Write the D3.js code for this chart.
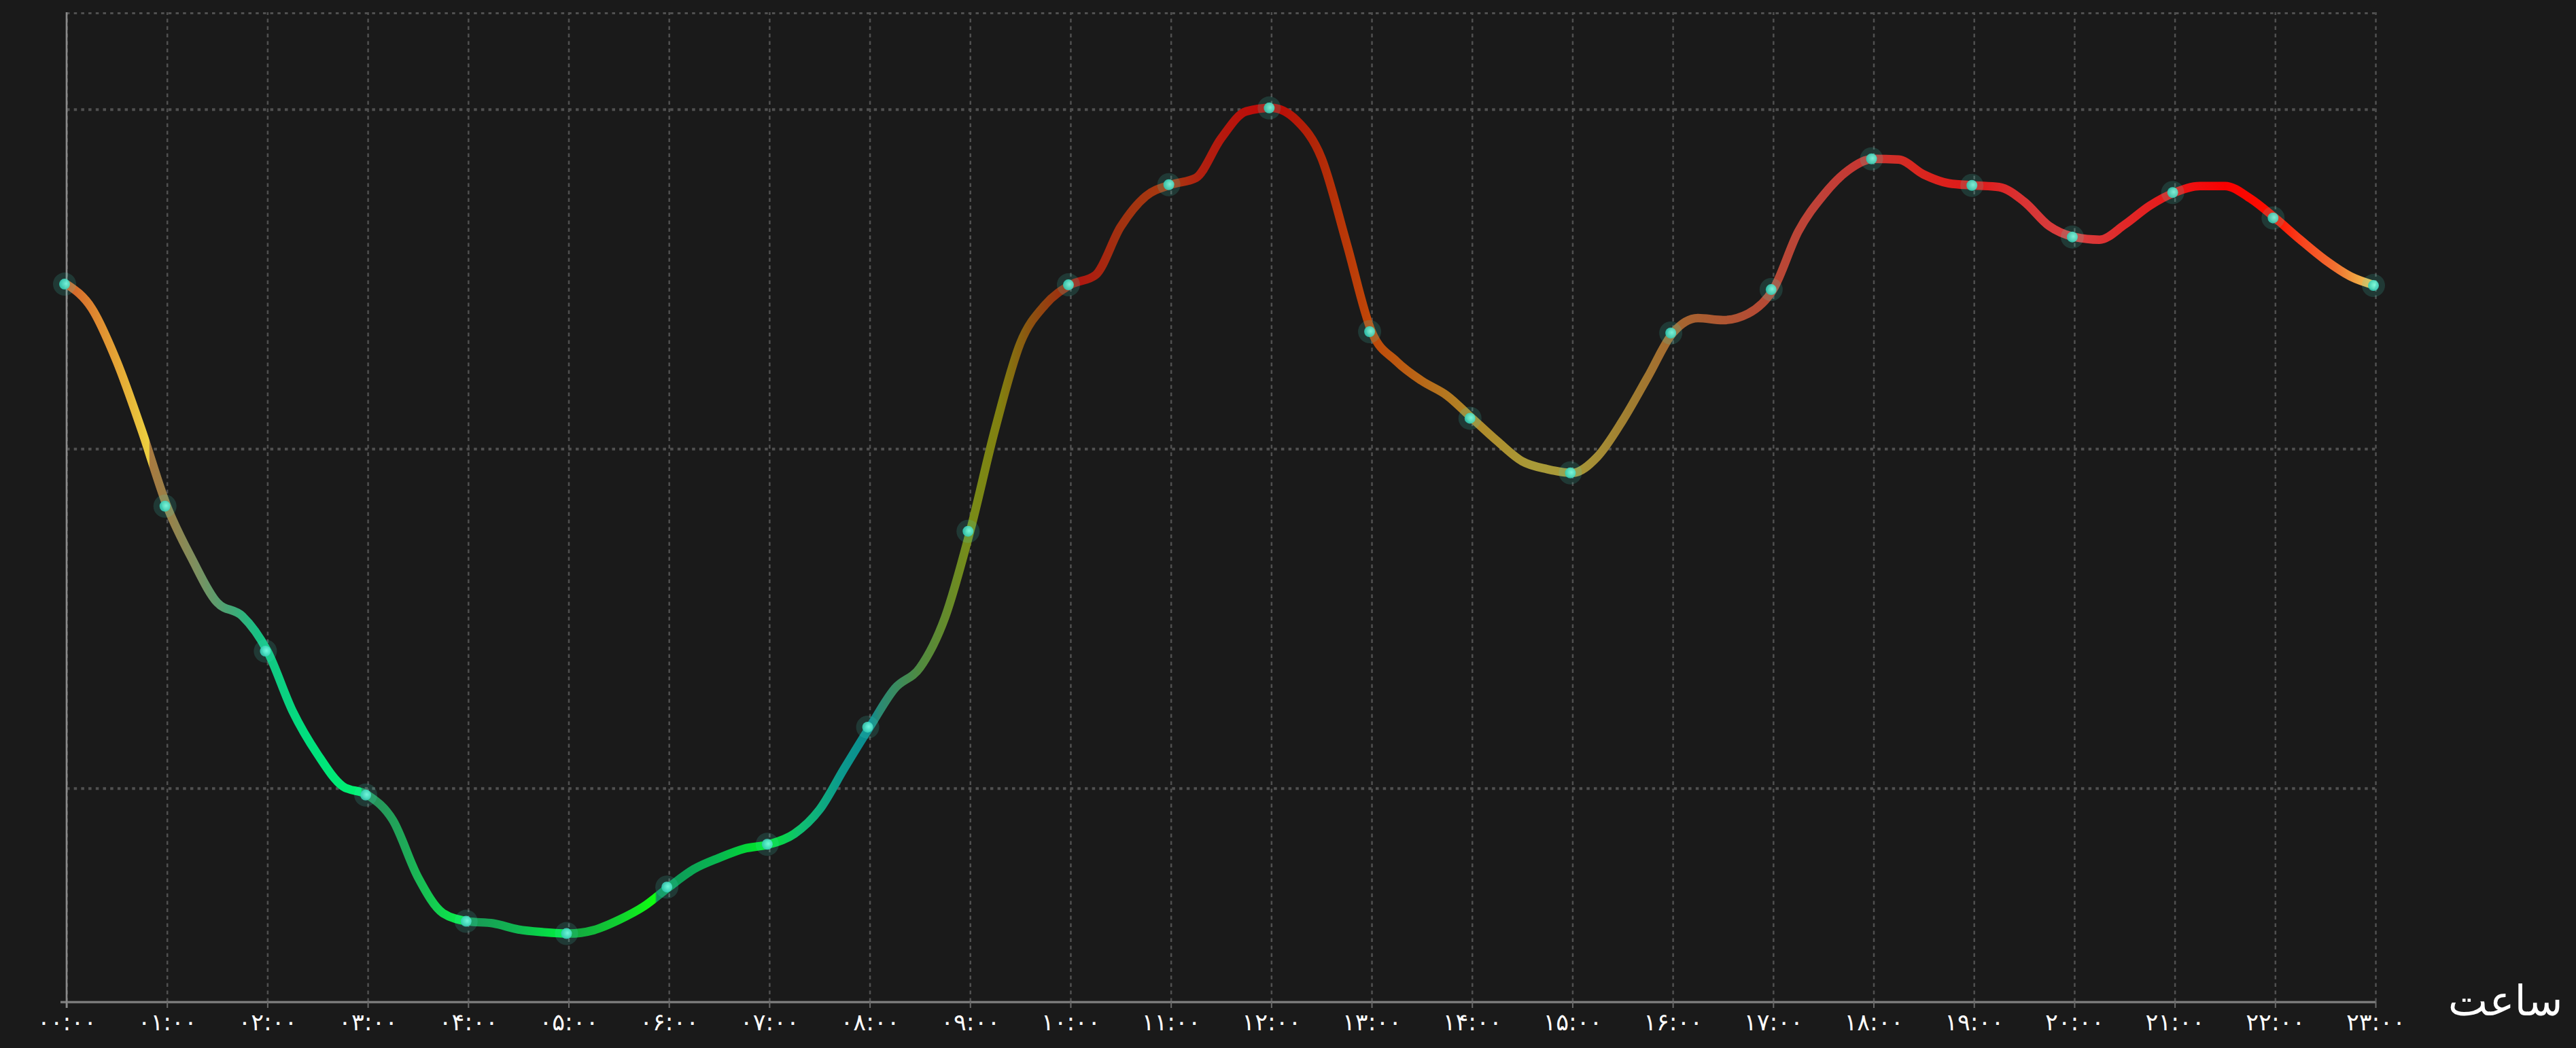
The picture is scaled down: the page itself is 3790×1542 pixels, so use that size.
<!DOCTYPE html>
<html><head><meta charset="utf-8">
<script src="https://cdn.jsdelivr.net/npm/d3@7"></script>
<style>html,body{margin:0;padding:0;background:#1a1a1a;}svg{display:block}</style>
</head><body><svg id="chart" width="3790" height="1542"></svg>
<script>
// ---- data ----
const hourLabels = ["۰۰:۰۰","۰۱:۰۰","۰۲:۰۰","۰۳:۰۰","۰۴:۰۰","۰۵:۰۰","۰۶:۰۰","۰۷:۰۰","۰۸:۰۰","۰۹:۰۰","۱۰:۰۰","۱۱:۰۰","۱۲:۰۰","۱۳:۰۰","۱۴:۰۰","۱۵:۰۰","۱۶:۰۰","۱۷:۰۰","۱۸:۰۰","۱۹:۰۰","۲۰:۰۰","۲۱:۰۰","۲۲:۰۰","۲۳:۰۰"];
const hours = [0,1,2,3,4,5,6,7,8,9,10,11,12,13,14,15,16,17,18,19,20,21,22,23];
const times = [0,0.25,0.5,0.75,1,1.25,1.5,1.75,2,2.25,2.5,2.75,3,3.25,3.5,3.75,4,4.25,4.5,4.75,5,5.25,5.5,5.75,
  6,6.25,6.5,6.75,7,7.25,7.5,7.75,8,8.25,8.5,8.75,9,9.25,9.5,9.75,10,10.25,10.5,10.75,11,11.25,11.5,11.75,
  12,12.25,12.5,12.75,13,13.25,13.5,13.75,14,14.25,14.5,14.75,15,15.25,15.5,15.75,16,16.25,16.5,16.75,
  17,17.25,17.5,17.75,18,18.25,18.5,18.75,19,19.25,19.5,19.75,20,20.25,20.5,20.75,21,21.25,21.5,21.75,
  22,22.25,22.5,22.75,23];
const values = [248.5,241.4,225.7,205.3,183.1,167.5,154.7,150.7,140.4,122.8,110.0,100.6,98.0,90.6,73.8,63.2,
  60.8,60.2,58.4,57.6,57.2,58.2,61.2,65.2,70.9,76.2,79.5,82.2,83.5,86.6,93.7,106.0,118.0,129.4,135.5,150.3,
  175.7,205.9,231.1,242.5,248.3,251.2,265.4,274.4,277.8,279.8,291.4,299.4,300.4,296.8,285.7,260.6,234.5,225.7,
  220.0,215.7,209.0,202.3,196.3,194.0,192.9,197.7,208.3,221.1,234.1,238.5,237.9,239.8,246.9,264.0,274.7,282.1,
  285.4,285.2,280.8,278.2,277.6,277.1,272.8,265.6,262.4,261.6,266.0,271.6,275.5,277.4,277.4,273.8,268.0,261.6,
  255.6,250.8,248.1];
const gridValues = [100,200,300];
const yDomain = [37.1,328.6];
const axisTitle = "ساعت";

// ---- style ----
const lineColorStops = [
 [0,"#d2602a"],[0.3,"#e08a30"],[0.6,"#e6b238"],[0.82,"#ecd040"],[0.83,"#a87a40"],[1.0,"#9a8048"],
 [1.3,"#7c9060"],[1.6,"#4aa474"],[1.9,"#18c084"],[2.4,"#00e07e"],[2.93,"#00f470"],[2.95,"#2a8c5c"],
 [3.4,"#1eac58"],[3.95,"#08f048"],[3.97,"#1a9458"],[4.5,"#10b850"],[4.95,"#00f040"],[4.97,"#14a044"],
 [5.5,"#10d030"],[5.86,"#10ff10"],[5.88,"#10905c"],[6.5,"#08b850"],[6.95,"#00e828"],[7.3,"#10c070"],
 [7.7,"#0c9a8c"],[8.0,"#0a8a90"],[8.1,"#2a8a74"],[8.5,"#508a40"],[9.0,"#788c18"],[9.3,"#828010"],
 [9.6,"#8c5210"],[9.95,"#a02c10"],[10.1,"#b01810"],[10.5,"#a03210"],[11.0,"#a83a10"],[11.3,"#b02010"],
 [12.0,"#c00808"],[12.4,"#b02408"],[13.0,"#c04808"],[13.5,"#b86818"],[14.0,"#b08828"],[14.6,"#a89a38"],
 [15.0,"#a89838"],[15.6,"#a07c30"],[16.2,"#a86030"],[16.8,"#b44c34"],[17.5,"#c04038"],[18.0,"#c83430"],
 [18.4,"#d82820"],[19.0,"#e01818"],[19.5,"#d83434"],[20.0,"#d84040"],[20.5,"#e02828"],[21.0,"#e81818"],
 [21.5,"#f80000"],[22.0,"#ff1000"],[22.3,"#f84820"],[22.6,"#f07030"],[22.8,"#f0a040"],[23.0,"#eed060"]
];

const svg = d3.select("#chart");
const X0 = 98, X1 = 3495, Y0 = 1474, Y1 = 18;
const x = d3.scaleLinear().domain([0,23]).range([X0,X1]);
const y = d3.scaleLinear().domain(yDomain).range([Y0,Y1]);

svg.append("rect").attr("width",3790).attr("height",1542).attr("fill","#1a1a1a");

const defs = svg.append("defs");
const lg = defs.append("linearGradient").attr("id","lineGrad")
  .attr("gradientUnits","userSpaceOnUse")
  .attr("x1",x(0)).attr("x2",x(23)).attr("y1",0).attr("y2",0);
lineColorStops.forEach(([t,c])=>{
  lg.append("stop").attr("offset",(t/23*100)+"%").attr("stop-color",c);
});
const rg = defs.append("radialGradient").attr("id","dotGrad").attr("cx","60%").attr("cy","45%").attr("r","60%");
rg.append("stop").attr("offset","0%").attr("stop-color","#7affe6");
rg.append("stop").attr("offset","100%").attr("stop-color","#2fc9b0");

// vertical grid
const vg = svg.append("g").attr("transform",`translate(0,${Y0})`)
  .call(d3.axisBottom(x).tickValues(hours).tickSize(-(Y0-Y1)).tickFormat(""));
vg.select(".domain").remove();
vg.selectAll("line").attr("stroke","#505050").attr("stroke-width",2.5).attr("stroke-dasharray","5.5 5.5");

// horizontal grid
const hg = svg.append("g").attr("transform",`translate(${X0},0)`)
  .call(d3.axisLeft(y).tickValues(gridValues).tickSize(-(X1-X0)).tickFormat(""));
hg.select(".domain").remove();
hg.selectAll("line").attr("stroke","#505050").attr("stroke-width",4).attr("stroke-dasharray","4.5 6.2");
const tg = svg.append("g").attr("transform",`translate(${X0},0)`)
  .call(d3.axisLeft(y).tickValues([yDomain[1]]).tickSize(-(X1-X0)).tickFormat(""));
tg.select(".domain").remove();
tg.selectAll("line").attr("stroke","#505050").attr("stroke-width",3).attr("stroke-dasharray","4.5 6.2")
  .attr("transform","translate(0,1)");

// bottom axis
const xa = svg.append("g").attr("transform",`translate(0,${Y0})`)
  .call(d3.axisBottom(x).tickValues(hours).tickSize(9).tickPadding(10).tickFormat((d,i)=>hourLabels[i]));
xa.select(".domain").attr("stroke","#7a7a7a").attr("stroke-width",3.3)
  .attr("d",`M${X0-9},0.5H${X1}`);
xa.selectAll(".tick line").attr("stroke","#6a6a6a").attr("stroke-width",2);
xa.selectAll("text").attr("fill","#ffffff").attr("font-size",35)
  .attr("font-family","'DejaVu Sans', sans-serif").attr("dy","23px");

// left axis line
svg.append("line").attr("x1",X0).attr("x2",X0).attr("y1",Y1).attr("y2",Y0+9)
  .attr("stroke","#8a8a8a").attr("stroke-width",2.7);

// axis title
svg.append("text").attr("x",3686).attr("y",1494).attr("text-anchor","middle")
  .attr("fill","#ffffff").attr("font-size",62).attr("font-family","'DejaVu Sans', sans-serif")
  .attr("direction","rtl").text(axisTitle);

// line
const pts = times.map((t,i)=>({t, v: values[i]}));
const line = d3.line().x(d=>x(d.t)).y(d=>y(d.v)).curve(d3.curveMonotoneX);
svg.append("path").datum(pts).attr("d",line).attr("fill","none")
  .attr("stroke","url(#lineGrad)").attr("stroke-width",12.5).attr("stroke-linejoin","round");

// dots at whole hours
const dotPts = pts.filter(d=>Number.isInteger(d.t));
const dg = svg.append("g");
dg.selectAll("circle.halo").data(dotPts).join("circle").attr("class","halo")
  .attr("cx",d=>x(d.t)-3).attr("cy",d=>y(d.v)).attr("r",17)
  .attr("fill","rgba(70,225,200,0.16)");
dg.selectAll("circle.dot").data(dotPts).join("circle").attr("class","dot")
  .attr("cx",d=>x(d.t)-3).attr("cy",d=>y(d.v)).attr("r",8)
  .attr("fill","url(#dotGrad)").attr("opacity",0.9);
</script></body></html>
